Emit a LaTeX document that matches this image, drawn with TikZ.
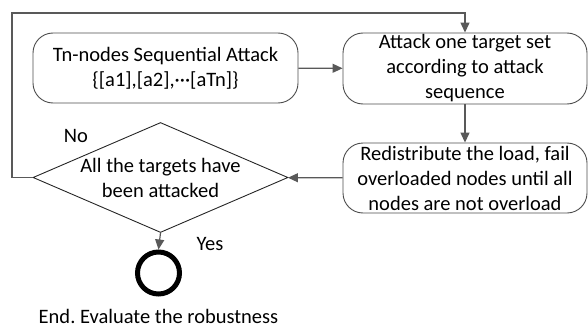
\documentclass[tikz,border=0pt]{standalone}
\usepackage{fontspec}
\setmainfont{Carlito}
\usetikzlibrary{shapes.geometric,arrows.meta}

\begin{document}
\begin{tikzpicture}[x=1pt,y=-1pt,
  line/.style={draw=black!65,line width=1.2pt},
  arr/.style={line,-{Triangle[length=10pt,width=9pt]}},
  txt/.style={font=\fontsize{20.5}{25}\selectfont,align=center,inner sep=0pt},
  stepbox/.style={txt,draw=black!70,line width=0.9pt,rounded corners=20pt},
  decide/.style={diamond,draw=black!85,line width=0.9pt,inner sep=0pt,
    minimum width=255pt,minimum height=110pt}]
  \useasboundingbox (0,0) rectangle (588,329);
  % boxes
  \node[stepbox,minimum width=265pt,minimum height=70pt] (seq) at (165.5,68)
    {Tn-nodes Sequential Attack\\\{[a1],[a2],···[aTn]\}};
  \node[stepbox,minimum width=244pt,minimum height=71pt] (att) at (465,68.5)
    {Attack one target set\\according to attack\\sequence};
  \node[stepbox,minimum width=244pt,minimum height=70pt] (red) at (465,178)
    {Redistribute the load, fail\\overloaded nodes until all\\nodes are not overload};
  \node[decide] (chk) at (160.5,177.5) {};
  \node[txt] (chktxt) at (chk) {All the targets have\\been attacked};
  \node[circle,draw=black,line width=5pt,minimum size=42pt,inner sep=0pt] (fin) at (158.5,273) {};
  \coordinate (ret) at (12,13);
  % connectors
  \draw[arr] (seq) -- (att);
  \draw[arr] (att) -- (red);
  \draw[arr] (red) -- (chk);
  \draw[arr] (chk.south) -- (fin.north);
  \draw[arr] (chk.west) -| (ret) -| (att.north);
  % labels
  \node[txt,anchor=base] (no) at (76,142) {No};
  \node[txt,anchor=base] (yes) at (210,250) {Yes};
  \node[txt,anchor=base] (endtxt) at (158.5,323) {End.\ Evaluate the robustness};
\end{tikzpicture}
\end{document}
